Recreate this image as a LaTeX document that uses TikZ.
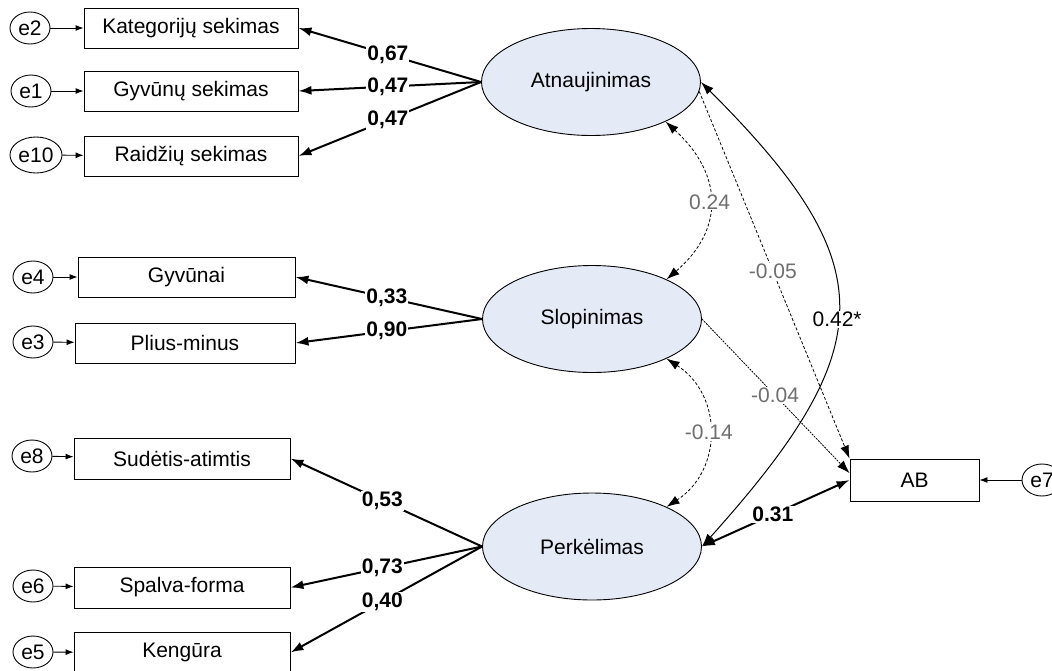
\documentclass[tikz,border=0pt]{standalone}
\usepackage{fontspec}
\setmainfont{Liberation Sans}
\usetikzlibrary{arrows.meta,shapes.geometric,calc}
\definecolor{latfill}{RGB}{228,234,246}
\definecolor{labgray}{RGB}{110,110,110}
\begin{document}
\begin{tikzpicture}[x=1pt,y=-1pt,
  font=\fontsize{21}{25}\selectfont,
  lat/.style={ellipse,draw,fill=latfill,minimum width=219pt,minimum height=107pt,inner sep=0pt,line width=0.9pt},
  obs/.style={rectangle,draw,minimum height=40pt,inner sep=0pt,line width=0.9pt},
  err/.style={ellipse,draw,minimum width=40pt,minimum height=32pt,inner sep=0pt,line width=0.9pt},
  earr/.style={-{Latex[length=8pt,width=6pt]},line width=0.9pt},
  load/.style={-{Latex[length=13pt,width=9pt]},line width=2pt},
  dload/.style={{Latex[length=13pt,width=9pt]}-{Latex[length=13pt,width=9pt]},line width=2pt},
  covsolid/.style={{Latex[length=13pt,width=9pt]}-{Latex[length=13pt,width=9pt]},line width=1pt},
  covdash/.style={{Latex[length=13pt,width=9pt]}-{Latex[length=13pt,width=9pt]},line width=0.8pt,dash pattern=on 3pt off 2pt},
  pathdash/.style={-{Latex[length=13pt,width=9pt]},line width=0.8pt,dash pattern=on 3pt off 2pt},
  pathfine/.style={-{Latex[length=13pt,width=9pt]},line width=0.8pt,dash pattern=on 2pt off 1pt},
  blab/.style={fill=white,inner sep=1pt,font=\fontsize{21}{25}\selectfont\bfseries},
  glab/.style={fill=white,inner sep=1pt,text=labgray},
  klab/.style={fill=white,inner sep=1pt}
]
\useasboundingbox (0,0) rectangle (1052,670);

% latent variables
\node[lat] (A) at (591,82) {Atnaujinimas};
\node[lat] (S) at (592,319) {Slopinimas};
\node[lat] (P) at (592,546.5) {Perkėlimas};

% observed variables
\node[obs,minimum width=214pt] (K) at (191,28) {Kategorijų sekimas};
\node[obs,minimum width=214pt] (G) at (191,91) {Gyvūnų sekimas};
\node[obs,minimum width=214pt] (R) at (191,156) {Raidžių sekimas};
\node[obs,minimum width=217pt] (Gy) at (186.5,277) {Gyvūnai};
\node[obs,minimum width=220pt] (PM) at (185,343) {Plius-minus};
\node[obs,minimum width=216pt,minimum height=41pt] (SA) at (182,458.5) {Sudėtis-atimtis};
\node[obs,minimum width=216pt,minimum height=41pt] (SF) at (182,587.5) {Spalva-forma};
\node[obs,minimum width=216pt,minimum height=41pt] (KE) at (182,652.5) {Kengūra};
\node[obs,minimum width=129pt,minimum height=42pt] (AB) at (914.5,480) {AB};

% error terms
\node[err] (e2) at (30,28) {e2};
\node[err] (e1) at (31,91) {e1};
\node[err,minimum width=52pt,minimum height=36pt] (e10) at (36,155) {e10};
\node[err] (e4) at (33,277) {e4};
\node[err] (e3) at (33,342) {e3};
\node[err] (e8) at (32,456) {e8};
\node[err] (e6) at (33,586) {e6};
\node[err] (e5) at (33,652) {e5};
\node[err] (e7) at (1042,480) {e7};

% error arrows
\draw[earr] (e2) -- (K);
\draw[earr] (e1) -- (G);
\draw[earr] (e10) -- (R);
\draw[earr] (e4) -- (Gy);
\draw[earr] (e3) -- (PM);
\draw[earr] (e8) -- (SA);
\draw[earr] (e6) -- (SF);
\draw[earr] (e5) -- (KE);
\draw[earr] (e7) -- (AB);

% loadings
\draw[load] (A.west) -- node[blab,pos=0.51]{0,67} (K.east);
\draw[load] (A.west) -- node[blab,pos=0.51]{0,47} (G.east);
\draw[load] (A.west) -- node[blab,pos=0.51]{0,47} (R.east);
\draw[load] (S.west) -- node[blab,pos=0.51]{0,33} (Gy.east);
\draw[load] (S.west) -- node[blab,pos=0.51]{0,90} (PM.east);
\draw[load] (P.west) -- node[blab,pos=0.52]{0,53} (SA.east);
\draw[load] (P.west) -- node[blab,pos=0.52]{0,73} (SF.east);
\draw[load] (P.west) -- node[blab,pos=0.52]{0,40} (KE.east);

% covariances among latents
\draw[covdash] (A.-28) .. controls (724,175) and (724,230) .. node[glab,pos=0.5]{0.24} (S.28);
\draw[covdash] (S.-28) .. controls (723,395) and (723,470) .. node[glab,pos=0.5]{-0.14} (P.28);
\draw[covsolid] (A.east) .. controls (883,264) and (883,345) .. node[klab,pos=0.53]{0.42*} (P.east);

% paths to AB
\draw[pathdash] (A.-5) -- node[glab,pos=0.49]{-0.05} (AB.north west);
\draw[pathfine] (S.east) -- node[glab,pos=0.495]{-0.04} (AB.174);
\draw[dload] (P.east) -- node[blab,pos=0.48]{0.31} (AB.west);
\end{tikzpicture}
\end{document}
